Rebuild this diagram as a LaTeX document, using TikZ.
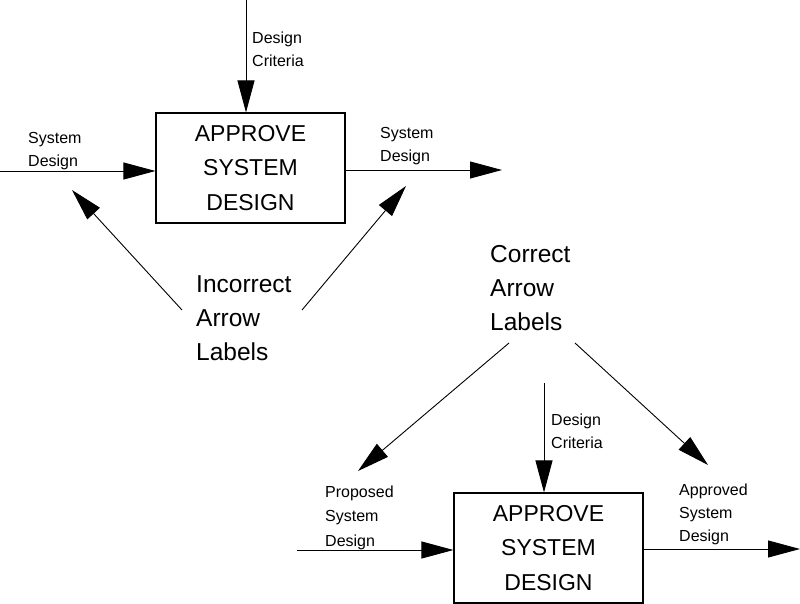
\documentclass[tikz,border=0pt]{standalone}
\usepackage{fontspec}
\setmainfont{Liberation Sans}
\usetikzlibrary{arrows.meta}

\begin{document}
\begin{tikzpicture}[
  x=1pt, y=-1pt,
  func/.style={draw, line width=1.1pt, minimum width=189pt, minimum height=110pt, align=center, inner sep=0pt, font=\fontsize{23}{34.5}\selectfont},
  lbl/.style={anchor=base west, align=left, inner sep=0pt, font=\fontsize{16}{23}\selectfont},
  note/.style={anchor=base west, align=left, inner sep=0pt, font=\fontsize{24.5}{34}\selectfont},
  arr/.style={-{Triangle[length=32pt, width=17pt]}, line width=0.9pt}
]
\useasboundingbox (0,0) rectangle (800,604);

% upper example: wrong labels
\node[func] (topbox) at (250.5,168) {APPROVE\\SYSTEM\\DESIGN};
\coordinate (topCrit) at (246,0);
\coordinate (topIn) at (0,171);
\coordinate (topOut) at (502,170);
\draw[arr] (topCrit) -- (topCrit |- topbox.north);
\draw[arr] (topIn) -- (topbox.west |- topIn);
\draw[arr] (topbox.east |- topOut) -- (topOut);
\node[lbl] (topCritLbl) at (252,67) {Design\\Criteria};
\node[lbl] (topInLbl) at (28,167) {System\\Design};
\node[lbl] (topOutLbl) at (380,162) {System\\Design};

\node[note] (incorrect) at (196,360) {Incorrect\\Arrow\\Labels};
\coordinate (incL) at (182,310);
\coordinate (incR) at (302,310);
\coordinate (incLtip) at (72,190);
\coordinate (incRtip) at (406,186);
\draw[arr] (incL) -- (incLtip);
\draw[arr] (incR) -- (incRtip);

% lower example: right labels
\node[func] (botbox) at (548.5,548) {APPROVE\\SYSTEM\\DESIGN};
\coordinate (botCrit) at (544,383);
\coordinate (botIn) at (297,550);
\coordinate (botOut) at (800,549);
\draw[arr] (botCrit) -- (botCrit |- botbox.north);
\draw[arr] (botIn) -- (botbox.west |- botIn);
\draw[arr] (botbox.east |- botOut) -- (botOut);
\node[lbl] (botCritLbl) at (551,448) {Design\\Criteria};
\node[lbl, font=\fontsize{16}{24.5}\selectfont] (botInLbl) at (325,546) {Proposed\\System\\Design};
\node[lbl] (botOutLbl) at (679,541) {Approved\\System\\Design};

\node[note] (correct) at (490,330) {Correct\\Arrow\\Labels};
\coordinate (corL) at (509,343);
\coordinate (corR) at (575,343);
\coordinate (corLtip) at (358,471);
\coordinate (corRtip) at (708,465);
\draw[arr] (corL) -- (corLtip);
\draw[arr] (corR) -- (corRtip);
\end{tikzpicture}
\end{document}
